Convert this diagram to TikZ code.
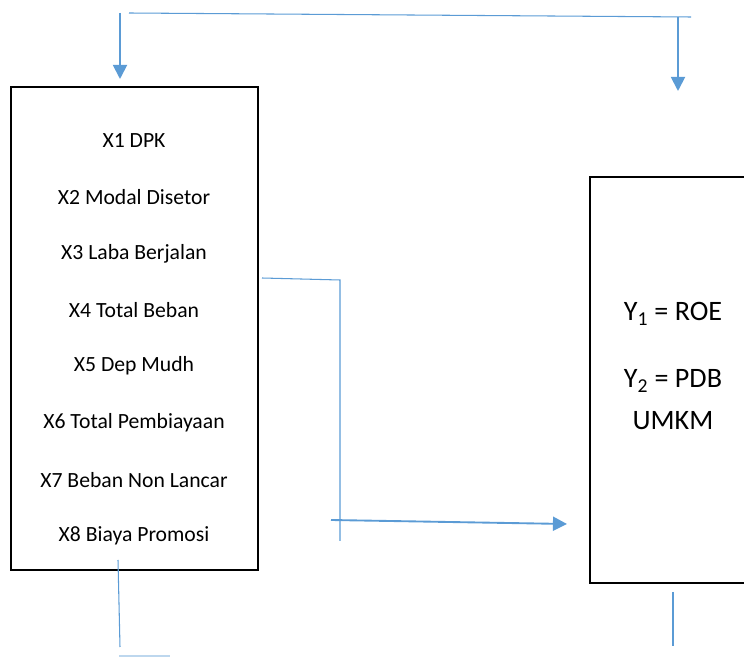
\documentclass[tikz,border=0pt]{standalone}
\usepackage{fontspec}
\setmainfont{Carlito}
\usepackage{xcolor}
\definecolor{linkblue}{HTML}{5B9BD5}
\usetikzlibrary{arrows.meta, positioning, calc}

\begin{document}
\begin{tikzpicture}[
        x=0.03cm, y=-0.03cm,
        box/.style={
            rectangle,
            draw=black,
            line width=1.6pt,
            inner sep=0pt
        },
        item/.style={
            font=\fontsize{18.5}{22}\selectfont,
            inner sep=0pt
        },
        result/.style={
            font=\fontsize{24}{28}\selectfont,
            inner sep=0pt
        },
        link/.style={
            draw=linkblue,
            line width=0.9pt
        },
        arrow/.style={
            -{Triangle[length=12pt, width=12pt]},
            draw=linkblue,
            line width=1.6pt
        }
    ]
    \useasboundingbox (0,0) rectangle (744,657);
    \clip (0,0) rectangle (744,657);

    % Left box: variables X
    \node[box, minimum width=7.41cm, minimum height=14.49cm] (inputs) at (134.5,328.5) {};
    \node[item] (x1) at (134,141) {X1 DPK};
    \node[item] (x2) at (134,197) {X2 Modal Disetor};
    \node[item] (x3) at (134,254) {X3 Laba Berjalan};
    \node[item] (x4) at (134,310) {X4 Total Beban};
    \node[item] (x5) at (134,366) {X5 Dep Mudh};
    \node[item] (x6) at (134,423) {X6 Total Pembiayaan};
    \node[item] (x7) at (134,480) {X7 Beban Non Lancar};
    \node[item] (x8) at (134,536) {X8 Biaya Promosi};

    % Right box: variables Y
    \node[box, minimum width=5.2cm, minimum height=12.18cm] (outputs) at (677,380) {};
    \node[result, anchor=base] (y1) at (673,321) {Y\textsubscript{1} = ROE};
    \node[result, anchor=base] (y2) at (673,388) {Y\textsubscript{2} = PDB};
    \node[result, anchor=base] (y3) at (673,430) {UMKM};

    % Top connector
    \coordinate (topL) at (129,13);
    \coordinate (topR) at (691,17);
    \coordinate (downL) at (120,13);
    \coordinate (downR) at (678,17);
    \draw[link] (topL) -- (topR);
    \draw[arrow] (downL) -- (120,79);
    \draw[arrow] (downR) -- (678,91);

    % From X3 down
    \coordinate (fromX3) at (262,278);
    \coordinate (bend) at (340,280);
    \draw[link] (fromX3) -- (bend) -- (340,541);

    % Arrow to Y
    \coordinate (start) at (331,520);
    \coordinate (toY) at (567,524);
    \draw[arrow] (start) -- (toY);

    % Bottom lines
    \draw[link] (118,560) -- (120,647);
    \draw[link] (673,592) -- (673,646);
    \draw[link, draw=linkblue!40] (119,656) -- (170,656);

\end{tikzpicture}
\end{document}
